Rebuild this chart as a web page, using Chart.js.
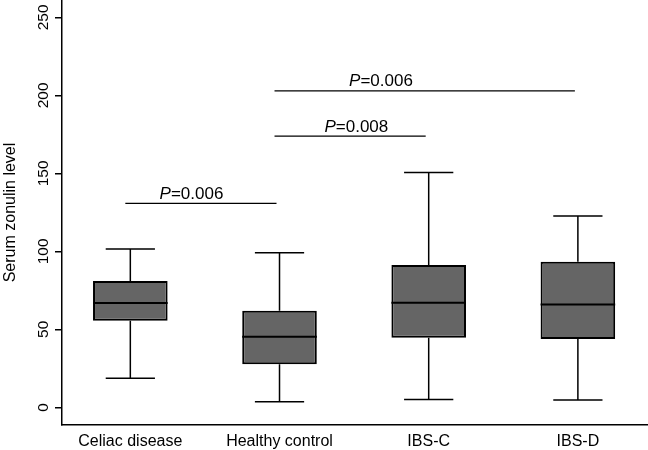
<!DOCTYPE html>
<html>
<head>
<meta charset="utf-8">
<script src="https://cdn.jsdelivr.net/npm/chart.js@4.4.0/dist/chart.umd.min.js"></script>
<style>
html, body { margin: 0; padding: 0; background: #fff; }
</style>
</head>
<body>
<canvas id="boxChart" width="648" height="450"></canvas>
<script>
// values
let categories = ["Celiac disease", "Healthy control", "IBS-C", "IBS-D"];
let whiskerLow = [18.6, 3.6, 5.1, 4.7];
let quart1 = [55.5, 27.6, 44.6, 43.8];
let medians = [66.9, 45.3, 67.0, 66.0];
let quart3 = [81.0, 61.9, 91.2, 93.3];
let whiskerHigh = [101.5, 99.1, 150.6, 122.6];
let yTicks = [0, 50, 100, 150, 200, 250];

// significance bars: groups compared (1-based), height, p value
let sigFrom = [2, 2, 1];
let sigTo = [4, 3, 2];
let sigLevel = [202.8, 173.9, 130.8];
let sigP = ["0.006", "0.008", "0.006"];

const FONT = "'Liberation Sans', Arial, Helvetica, sans-serif";
const capWidth = 0.33;          // in category units
const sigTextAt = [0.34, 0.515, 0.41]; // where the p label sits along its bar

let ctx = document.querySelector("#boxChart");

let boxParts = {
    id: "boxParts",
    beforeDatasetsDraw(chart) {
        let x = chart.scales.x, y = chart.scales.y, c = chart.ctx;
        c.save();
        c.strokeStyle = "#000";
        c.lineWidth = 1.5;
        categories.forEach((name, i) => {
            let cx = x.getPixelForValue(i + 1);
            let half = x.getPixelForValue(i + 1 + capWidth / 2) - cx;
            let yl = y.getPixelForValue(whiskerLow[i]);
            let yh = y.getPixelForValue(whiskerHigh[i]);
            let y1 = y.getPixelForValue(quart1[i]);
            let y3 = y.getPixelForValue(quart3[i]);
            c.beginPath();
            c.moveTo(cx, y3); c.lineTo(cx, yh);
            c.moveTo(cx - half, yh); c.lineTo(cx + half, yh);
            c.moveTo(cx, y1); c.lineTo(cx, yl);
            c.moveTo(cx - half, yl); c.lineTo(cx + half, yl);
            c.stroke();
        });
        c.restore();
    },
    afterDatasetsDraw(chart) {
        let x = chart.scales.x, y = chart.scales.y, c = chart.ctx;
        let meta = chart.getDatasetMeta(0);
        c.save();
        c.strokeStyle = "#000";
        c.lineWidth = 2;
        meta.data.forEach((bar, i) => {
            let ym = y.getPixelForValue(medians[i]);
            c.beginPath();
            c.moveTo(bar.x - bar.width / 2, ym);
            c.lineTo(bar.x + bar.width / 2, ym);
            c.stroke();
        });

        // significance bars
        c.lineWidth = 1.2;
        sigP.forEach((p, i) => {
            let xa = x.getPixelForValue(sigFrom[i]);
            let xb = x.getPixelForValue(sigTo[i]);
            let yy = y.getPixelForValue(sigLevel[i]);
            c.beginPath();
            c.moveTo(xa - 5, yy); c.lineTo(xb - 3, yy);
            c.stroke();

            let rest = "=" + p;
            c.font = "italic 17px " + FONT;
            let wP = c.measureText("P").width;
            c.font = "17px " + FONT;
            let wR = c.measureText(rest).width;
            let mid = xa + (xb - xa) * sigTextAt[i];
            let sx = mid - (wP + wR) / 2;
            c.fillStyle = "#000";
            c.textBaseline = "alphabetic";
            c.textAlign = "left";
            c.font = "italic 17px " + FONT;
            c.fillText("P", sx, yy - 4.5);
            c.font = "17px " + FONT;
            c.fillText(rest, sx + wP, yy - 4.5);
        });
        c.restore();
    },
    afterDraw(chart) {
        let y = chart.scales.y, c = chart.ctx, area = chart.chartArea;
        c.save();
        c.fillStyle = "#000";
        c.textAlign = "center";
        c.textBaseline = "alphabetic";
        c.font = "15.5px " + FONT;
        yTicks.forEach((v) => {
            c.save();
            c.translate(48, y.getPixelForValue(v));
            c.rotate(-Math.PI / 2);
            c.fillText(String(v), 0, 0);
            c.restore();
        });
        c.font = "16px " + FONT;
        c.translate(15, (area.top + area.bottom) / 2);
        c.rotate(-Math.PI / 2);
        c.fillText("Serum zonulin level", 0, 0);
        c.restore();
    }
};

new Chart(ctx, {
    type: "bar",
    data: {
        datasets: [{
            data: categories.map((name, i) => ({ x: i + 1, y: [quart1[i], quart3[i]] })),
            backgroundColor: "#656565",
            borderColor: "#000",
            borderWidth: 2,
            borderSkipped: false,
            barPercentage: 0.5,
            categoryPercentage: 1.0
        }]
    },
    options: {
        responsive: false,
        animation: false,
        devicePixelRatio: 1,
        layout: { padding: 0 },
        plugins: {
            legend: { display: false },
            tooltip: { enabled: false }
        },
        scales: {
            x: {
                type: "linear",
                offset: false,
                min: 0.542,
                max: 4.47,
                afterBuildTicks: (scale) => {
                    scale.ticks = categories.map((name, i) => ({ value: i + 1 }));
                },
                afterFit: (scale) => { scale.height = 25; },
                grid: { display: false, drawTicks: false, tickLength: 0 },
                border: { display: true, color: "#000", width: 1.5 },
                ticks: {
                    autoSkip: false,
                    maxRotation: 0,
                    padding: 7,
                    color: "#000",
                    font: { family: FONT, size: 16 },
                    callback: (v) => categories[v - 1]
                }
            },
            y: {
                min: -11.3,
                max: 261.1,
                afterBuildTicks: (scale) => {
                    scale.ticks = yTicks.map((v) => ({ value: v }));
                },
                afterFit: (scale) => { scale.width = 62; },
                grid: {
                    drawOnChartArea: false,
                    drawTicks: true,
                    tickLength: 7,
                    color: "#000",
                    lineWidth: 1.5
                },
                border: { display: true, color: "#000", width: 1.5 },
                ticks: { display: false }
            }
        }
    },
    plugins: [boxParts]
});
</script>
</body>
</html>
